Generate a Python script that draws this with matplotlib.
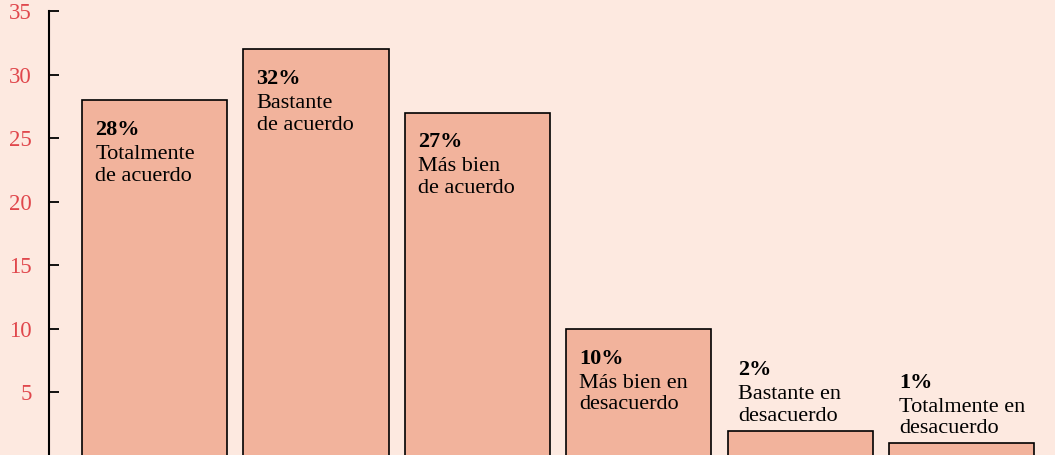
import matplotlib
matplotlib.use("Agg")
import matplotlib.pyplot as plt

plt.rcParams["font.family"] = ["Liberation Serif", "DejaVu Serif"]

# datos
valores = [28, 32, 27, 10, 2, 1]
etiquetas = [
    "Totalmente\nde acuerdo",
    "Bastante\nde acuerdo",
    "Más bien\nde acuerdo",
    "Más bien en\ndesacuerdo",
    "Bastante en\ndesacuerdo",
    "Totalmente en\ndesacuerdo",
]
ticks_y = [5, 10, 15, 20, 25, 30, 35]

fondo = "#fde9e0"
barra = "#f2b39c"
rojo = "#e0474c"

fig = plt.figure(figsize=(10.55, 4.55), dpi=100, facecolor=fondo)
ax = fig.add_axes([48.5 / 1055, -1 / 455, 1 - 48.5 / 1055, 445 / 455])
ax.set_facecolor(fondo)

x = range(len(valores))
ax.bar(x, valores, width=0.9, color=barra, edgecolor="black", linewidth=1.2)

for i, (v, lab) in enumerate(zip(valores, etiquetas)):
    x0 = i - 0.45
    if v >= 5:
        ax.annotate(f"{v}%", xy=(x0, v), xytext=(9.5, -25), textcoords="offset points",
                    ha="left", va="baseline", fontsize=16, fontweight="bold")
        ax.annotate(lab, xy=(x0, v), xytext=(9.5, -58), textcoords="offset points",
                    ha="left", va="baseline", fontsize=16, linespacing=1.2)
    else:
        ax.annotate(lab, xy=(x0, v), xytext=(7.5, 3.5), textcoords="offset points",
                    ha="left", va="bottom", fontsize=16, linespacing=1.2)
        ax.annotate(f"{v}%", xy=(x0, v), xytext=(7.5, 40), textcoords="offset points",
                    ha="left", va="baseline", fontsize=16, fontweight="bold")

ax.set_xlim(-0.657, 5.579)
ax.set_ylim(0, 35)
ax.set_yticks(ticks_y)
ax.set_xticks([])
for s in ["top", "right", "bottom"]:
    ax.spines[s].set_visible(False)
ax.spines["left"].set_linewidth(1.5)
ax.tick_params(axis="y", direction="in", length=7, width=1.3, pad=12,
               labelsize=16.5, labelcolor=rojo)

fig.savefig("out.png", dpi=100, facecolor=fondo)
